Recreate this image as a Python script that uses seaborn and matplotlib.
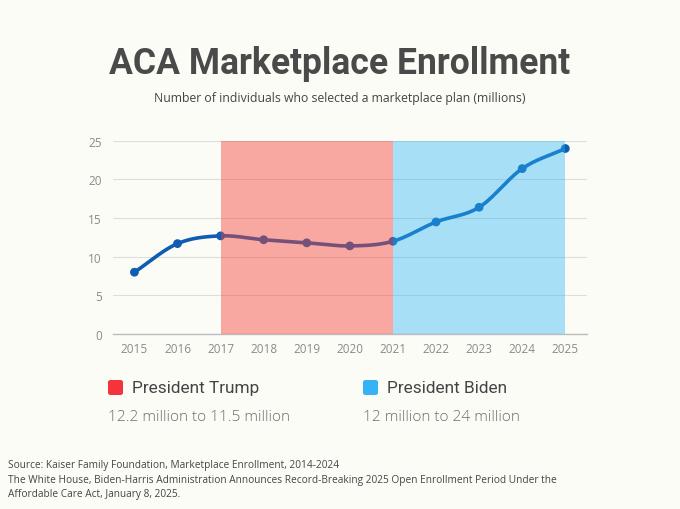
import numpy as np
import pandas as pd
import matplotlib
matplotlib.use("Agg")
import matplotlib.pyplot as plt
import seaborn as sns
from matplotlib.patches import FancyBboxPatch

years = [2015, 2016, 2017, 2018, 2019, 2020, 2021, 2022, 2023, 2024, 2025]
enrollment = [8.0, 11.7, 12.7, 12.2, 11.8, 11.4, 12.0, 14.5, 16.4, 21.4, 24.0]
yticks = [0, 5, 10, 15, 20, 25]
trump_span = (2017, 2021)
biden_span = (2021, 2025)

BG = "#FCFCF7"
sns.set_theme(style="white")
plt.rcParams["font.family"] = ["Open Sans", "DejaVu Sans"]

df = pd.DataFrame({"year": years, "enrollment": enrollment})

fig = plt.figure(figsize=(6.8, 5.1), dpi=100, facecolor=BG)
ax = fig.add_axes([0.166, 0.343, 0.697, 0.379])
ax.set_facecolor(BG)

# smooth rendering of the line (Catmull-Rom through data points)
x = np.array(years, float)
y = np.array(enrollment, float)
xs, ys = [], []
px = np.concatenate([[2 * x[0] - x[1]], x, [2 * x[-1] - x[-2]]])
py = np.concatenate([[2 * y[0] - y[1]], y, [2 * y[-1] - y[-2]]])
t = np.linspace(0, 1, 30)
for i in range(1, len(px) - 2):
    p0, p1, p2, p3 = py[i - 1], py[i], py[i + 1], py[i + 2]
    q0, q1, q2, q3 = px[i - 1], px[i], px[i + 1], px[i + 2]
    seg_y = 0.5 * ((2 * p1) + (-p0 + p2) * t + (2 * p0 - 5 * p1 + 4 * p2 - p3) * t**2 + (-p0 + 3 * p1 - 3 * p2 + p3) * t**3)
    seg_x = 0.5 * ((2 * q1) + (-q0 + q2) * t + (2 * q0 - 5 * q1 + 4 * q2 - q3) * t**2 + (-q0 + 3 * q1 - 3 * q2 + q3) * t**3)
    xs.extend(seg_x); ys.extend(seg_y)

ax.plot(xs, ys, color="#0E5DB3", lw=2.6, zorder=2, solid_capstyle="round")
sns.scatterplot(data=df, x="year", y="enrollment", ax=ax, color="#0E5DB3", s=40,
                edgecolor="none", zorder=3, legend=False)

ax.axvspan(*trump_span, ymin=0, ymax=1, color="#F44336", alpha=0.45, lw=0, zorder=4)
ax.axvspan(*biden_span, ymin=0, ymax=1, color="#29B6F6", alpha=0.40, lw=0, zorder=4)

ax.set_xlim(2014.5, 2025.5)
ax.set_ylim(0, 25)
ax.set_yticks(yticks)
ax.set_xticks(years)
ax.set_xticklabels([str(v) for v in years])
ax.grid(axis="y", color="#DDDDDD", lw=0.8, zorder=1)
ax.set_axisbelow(True)
for s in ["top", "right", "left"]:
    ax.spines[s].set_visible(False)
ax.spines["bottom"].set_color("#BBBBBB")
ax.spines["bottom"].set_linewidth(1)
ax.tick_params(axis="both", length=0, labelsize=8.5, labelcolor="#8A8A8A", pad=6)
ax.tick_params(axis="y", pad=8)
ax.set_xlabel("")
ax.set_ylabel("")

fig.text(0.5, 0.874, "ACA Marketplace Enrollment", ha="center", va="center",
         fontsize=25.6, fontweight="bold", color="#4A4A4A", family=["Roboto", "DejaVu Sans"])
fig.text(0.5, 0.806, "Number of individuals who selected a marketplace plan (millions)",
         ha="center", va="center", fontsize=8.8, color="#444444")

# legend blocks
for (sx, color, label, sub) in [(108, "#F4333A", "President Trump", "12.2 million to 11.5 million"),
                                 (363, "#36B3F4", "President Biden", "12 million to 24 million")]:
    sq = FancyBboxPatch((sx / 680, 1 - 396 / 510), 15 / 680, 15 / 510,
                        boxstyle="round,pad=0,rounding_size=0.004", transform=fig.transFigure,
                        facecolor=color, edgecolor="none")
    fig.patches.append(sq)
    fig.text((sx + 24) / 680, 1 - 389 / 510, label, ha="left", va="center", fontsize=12.4,
             color="#444444", family=["Roboto", "DejaVu Sans"])
    fig.text(sx / 680, 1 - 418 / 510, sub, ha="left", va="center", fontsize=11.1,
             color="#6E6E6E", family=["Open Sans", "DejaVu Sans"], fontweight="light")

src = ("Source: Kaiser Family Foundation, Marketplace Enrollment, 2014-2024\n"
       "The White House, Biden-Harris Administration Announces Record-Breaking 2025 Open Enrollment Period Under the\n"
       "Affordable Care Act, January 8, 2025.")
fig.text(8 / 680, 1 - 460 / 510, src, ha="left", va="top", fontsize=7.3, color="#444444",
         linespacing=1.45)

fig.savefig("out.png", dpi=100, facecolor=BG)
